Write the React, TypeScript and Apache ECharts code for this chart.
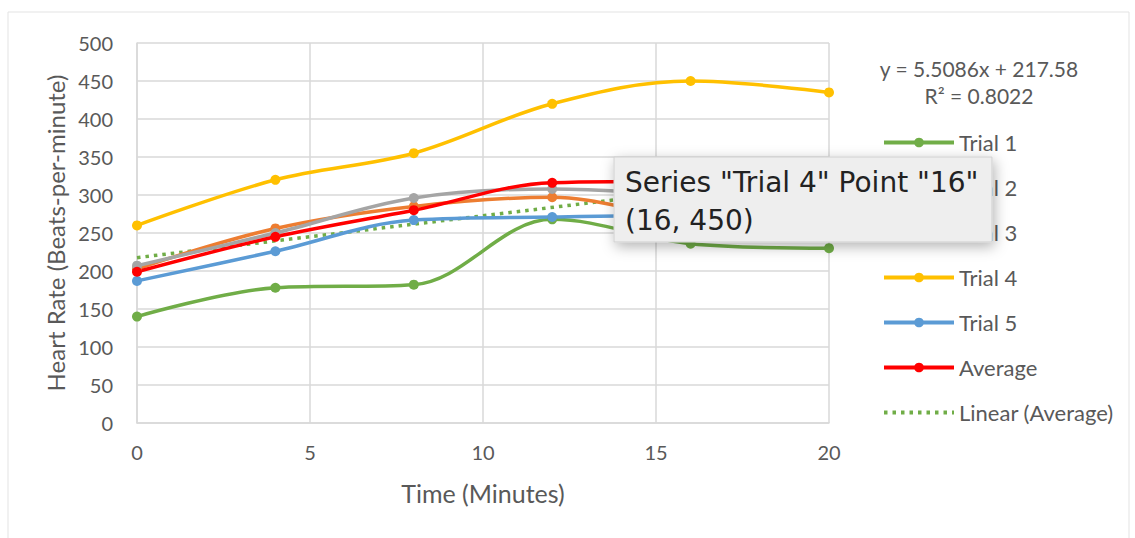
import React, { useEffect, useRef } from "react";
import * as echarts from "echarts";

const times = [0, 4, 8, 12, 16, 20];
const trial1 = [140, 178, 182, 268, 236, 230];
const trial2 = [203, 256, 285, 297, 272, 280];
const trial3 = [207, 250, 296, 308, 300, 295];
const trial4 = [260, 320, 355, 420, 450, 435];
const trial5 = [187, 226, 267, 271, 273, 268];
const average = [199, 245, 280, 316, 318, 305];
const trendSlope = 5.5086;
const trendIntercept = 217.58;
const trendX = [0, 20];
const yTicks = [0, 50, 100, 150, 200, 250, 300, 350, 400, 450, 500];
const xTicks = [0, 5, 10, 15, 20];

const FONT = "Lato, 'Open Sans', sans-serif";
const TIP_FONT = "'DejaVu Sans', 'Liberation Sans', sans-serif";

const seriesDefs = [
  { name: "Trial 1", data: trial1, color: "#70AD47" },
  { name: "Trial 2", data: trial2, color: "#ED7D31" },
  { name: "Trial 3", data: trial3, color: "#A5A5A5" },
  { name: "Trial 4", data: trial4, color: "#FFC000" },
  { name: "Trial 5", data: trial5, color: "#5B9BD5" },
  { name: "Average", data: average, color: "#FF0000" },
];

export default function App() {
  const ref = useRef<HTMLDivElement>(null);
  useEffect(() => {
    if (!ref.current) return;
    const chart = echarts.init(ref.current, undefined, { renderer: "svg" });
    const lineSeries: any[] = seriesDefs.map((s) => ({
      name: s.name,
      type: "line",
      smooth: 0.35,
      data: s.data.map((v, i) => [times[i], v]),
      symbol: "circle",
      symbolSize: 10,
      itemStyle: { color: s.color },
      lineStyle: { color: s.color, width: 3.5 },
      z: 3,
    }));
    lineSeries.push({
      name: "Linear (Average)",
      type: "line",
      data: trendX.map((x) => [x, trendIntercept + trendSlope * x]),
      symbol: "none",
      itemStyle: { color: "#70AD47" },
      lineStyle: { color: "#70AD47", width: 3.5, type: [3.5, 5] },
      z: 2,
    });
    chart.setOption({
      animation: false,
      backgroundColor: "#ffffff",
      grid: { left: 137, right: 306, top: 43, bottom: 115 },
      xAxis: {
        type: "value",
        min: 0,
        max: 20,
        interval: 5,
        name: "Time (Minutes)",
        nameLocation: "middle",
        nameGap: 57,
        nameTextStyle: { fontFamily: FONT, fontSize: 25, color: "#595959" },
        axisLine: { show: true, lineStyle: { color: "#d9d9d9", width: 1.5 } },
        axisTick: { show: false },
        axisLabel: {
          fontFamily: FONT,
          fontSize: 20,
          color: "#595959",
          margin: 19,
          formatter: (v: number) => (xTicks.includes(v) ? String(v) : ""),
        },
        splitLine: { show: true, lineStyle: { color: "#d9d9d9", width: 1.5 } },
      },
      yAxis: {
        type: "value",
        min: 0,
        max: 500,
        interval: 50,
        name: "Heart Rate (Beats-per-minute)",
        nameLocation: "middle",
        nameGap: 65,
        nameRotate: 90,
        nameTextStyle: { fontFamily: FONT, fontSize: 24, color: "#595959" },
        axisLine: { show: true, lineStyle: { color: "#d9d9d9", width: 1.5 } },
        axisTick: { show: false },
        axisLabel: {
          fontFamily: FONT,
          fontSize: 20,
          color: "#595959",
          margin: 24,
          formatter: (v: number) => (yTicks.includes(v) ? String(v) : ""),
        },
        splitLine: { show: true, lineStyle: { color: "#d9d9d9", width: 1.5 } },
      },
      legend: {
        orient: "vertical",
        left: 877,
        top: 125,
        itemWidth: 70,
        itemHeight: 12,
        itemGap: 20,
        lineStyle: { width: 4 },
        textStyle: {
          fontFamily: FONT,
          fontSize: 22,
          lineHeight: 25,
          color: "#595959",
        },
        data: [
          ...seriesDefs.map((s) => s.name),
          { name: "Linear (Average)", itemStyle: { opacity: 0 } },
        ],
      },
      graphic: [
        {
          type: "rect",
          silent: true,
          z: -10,
          shape: { x: 8, y: 12, width: 1121, height: 540 },
          style: { fill: "none", stroke: "#e3e3e3", lineWidth: 1 },
        },
        {
          type: "text",
          x: 979,
          y: 68,
          style: {
            text: `y = ${trendSlope}x + ${trendIntercept}`,
            fontFamily: FONT,
            fontSize: 21,
            fill: "#595959",
            align: "center",
            verticalAlign: "middle",
          },
        },
        {
          type: "text",
          x: 979,
          y: 95,
          style: {
            text: "R² = 0.8022",
            fontFamily: FONT,
            fontSize: 21,
            fill: "#595959",
            align: "center",
            verticalAlign: "middle",
          },
        },
        {
          type: "group",
          z: 100,
          children: [
            {
              type: "rect",
              z: 100,
              shape: { x: 614, y: 157, width: 378, height: 85 },
              style: {
                fill: "#eeeeee",
                stroke: "#cfcfcf",
                lineWidth: 1,
                shadowBlur: 14,
                shadowOffsetX: 2,
                shadowOffsetY: 4,
                shadowColor: "rgba(0,0,0,0.3)",
              },
            },
            {
              type: "text",
              z: 101,
              x: 625,
              y: 182,
              style: {
                text: 'Series "Trial 4" Point "16"',
                fontFamily: TIP_FONT,
                fontSize: 28,
                fill: "#222222",
                verticalAlign: "middle",
              },
            },
            {
              type: "text",
              z: 101,
              x: 625,
              y: 220,
              style: {
                text: "(16, 450)",
                fontFamily: TIP_FONT,
                fontSize: 28,
                fill: "#222222",
                verticalAlign: "middle",
              },
            },
          ],
        },
      ],
      series: lineSeries,
    });
    return () => chart.dispose();
  }, []);
  return (
    <div
      ref={ref}
      style={{ position: "fixed", left: 0, top: 0, width: 1135, height: 538 }}
    />
  );
}
